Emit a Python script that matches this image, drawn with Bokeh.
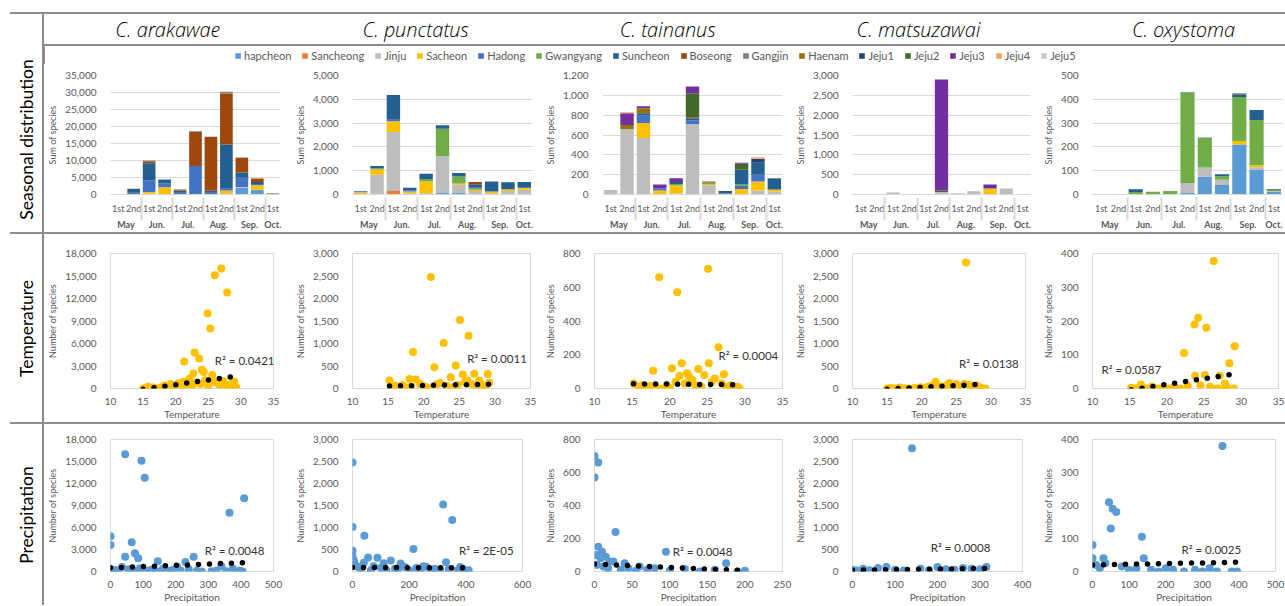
import numpy as np
from bokeh.plotting import figure
from bokeh.models import (ColumnDataSource, FactorRange, Range1d, FixedTicker,
                          NumeralTickFormatter, Legend, LegendItem, Div, Label)
from bokeh.layouts import row, column
from bokeh.embed import file_html
from bokeh.resources import INLINE
from bokeh.core.properties import value

# ---------------- data ----------------
species = ["C. arakawae", "C. punctatus", "C. tainanus", "C. matsuzawai", "C. oxystoma"]
row_titles = ["Seasonal distribution", "Temperature", "Precipitation"]
sites = ["hapcheon", "Sancheong", "Jinju", "Sacheon", "Hadong", "Gwangyang", "Suncheon",
         "Boseong", "Gangjin", "Haenam", "Jeju1", "Jeju2", "Jeju3", "Jeju4", "Jeju5"]
months = ["May", "May", "Jun.", "Jun.", "Jul.", "Jul.", "Aug.", "Aug.", "Sep.", "Sep.", "Oct."]
halves = ["1st", "2nd", "1st", "2nd", "1st", "2nd", "1st", "2nd", "1st", "2nd", "1st"]

# stacked bar values per site (May1 .. Oct1)
ara_bars = {
    "hapcheon": [0, 100, 200, 100, 0, 100, 0, 300, 2000, 1400, 0],
    "Jinju":    [0, 0, 0, 0, 0, 0, 0, 0, 200, 0, 0],
    "Sacheon":  [0, 0, 500, 2000, 0, 0, 0, 900, 0, 1300, 150],
    "Hadong":   [50, 400, 3500, 1200, 500, 8300, 500, 500, 2700, 400, 50],
    "Suncheon": [0, 1100, 5000, 1100, 700, 0, 600, 13000, 1600, 600, 0],
    "Boseong":  [0, 100, 600, 0, 300, 10000, 15900, 15000, 4200, 1000, 0],
    "Gangjin":  [0, 0, 200, 0, 0, 200, 0, 500, 200, 0, 0],
    "Haenam":   [0, 0, 0, 0, 0, 0, 0, 0, 0, 0, 200],
}
pun_bars = {
    "hapcheon":  [0, 0, 0, 0, 20, 80, 80, 0, 0, 0, 0],
    "Sancheong": [0, 30, 150, 0, 0, 0, 0, 0, 0, 0, 0],
    "Jinju":     [60, 800, 2480, 50, 30, 1530, 330, 150, 50, 150, 200],
    "Sacheon":   [50, 220, 450, 80, 500, 0, 50, 60, 80, 70, 80],
    "Hadong":    [20, 0, 60, 50, 0, 0, 0, 20, 0, 0, 0],
    "Gwangyang": [0, 50, 0, 0, 100, 1150, 300, 50, 0, 0, 0],
    "Suncheon":  [20, 100, 1040, 100, 220, 150, 140, 150, 420, 290, 240],
    "Boseong":   [0, 0, 0, 0, 0, 0, 0, 100, 0, 0, 0],
}
tai_bars = {
    "Jinju":     [45, 660, 570, 0, 10, 710, 90, 0, 0, 40, 30],
    "Sacheon":   [0, 0, 150, 40, 80, 0, 10, 0, 55, 90, 20],
    "Hadong":    [0, 0, 80, 20, 0, 40, 0, 10, 30, 70, 0],
    "Gwangyang": [0, 0, 0, 0, 15, 0, 20, 0, 15, 0, 0],
    "Suncheon":  [0, 0, 20, 0, 20, 20, 0, 25, 150, 120, 110],
    "Boseong":   [0, 0, 0, 0, 0, 10, 10, 0, 0, 0, 0],
    "Haenam":    [0, 40, 50, 0, 0, 0, 0, 0, 0, 0, 0],
    "Jeju1":     [0, 0, 0, 0, 0, 0, 0, 0, 0, 40, 5],
    "Jeju2":     [0, 0, 0, 0, 0, 240, 0, 0, 60, 0, 0],
    "Jeju3":     [0, 120, 20, 40, 40, 70, 0, 0, 10, 0, 0],
    "Jeju4":     [0, 10, 0, 0, 0, 0, 0, 0, 0, 15, 0],
}
mat_bars = {
    "Jinju":   [0, 0, 50, 0, 0, 60, 30, 80, 0, 150, 0],
    "Sacheon": [0, 0, 0, 0, 0, 0, 0, 0, 150, 0, 0],
    "Jeju2":   [0, 0, 0, 0, 0, 40, 0, 0, 0, 0, 0],
    "Jeju3":   [0, 0, 0, 0, 0, 2800, 0, 0, 100, 0, 0],
}
oxy_bars = {
    "hapcheon":  [0, 0, 0, 0, 0, 8, 75, 40, 210, 103, 10],
    "Jinju":     [0, 2, 0, 0, 0, 40, 38, 22, 0, 12, 5],
    "Sacheon":   [0, 0, 0, 0, 0, 0, 0, 0, 15, 8, 0],
    "Gwangyang": [0, 0, 10, 12, 15, 380, 125, 15, 185, 190, 5],
    "Suncheon":  [0, 0, 12, 0, 0, 2, 2, 8, 8, 42, 3],
    "Gangjin":   [0, 0, 0, 0, 0, 0, 0, 0, 7, 0, 0],
}
bar_yticks = [
    [0, 5000, 10000, 15000, 20000, 25000, 30000, 35000],
    [0, 1000, 2000, 3000, 4000, 5000],
    [0, 200, 400, 600, 800, 1000, 1200],
    [0, 500, 1000, 1500, 2000, 2500, 3000],
    [0, 100, 200, 300, 400, 500],
]

# scatter: temperature
ara_temp_x = [27.0, 26.0, 27.9, 24.9, 25.3, 22.9, 23.6, 21.3, 24.0, 24.3, 22.7, 25.6, 15.0, 15.4, 15.8, 16.2,
              16.6, 17.0, 17.5, 17.9, 18.3, 18.8, 19.2, 19.6, 20.0, 20.4, 20.8, 21.2, 21.7, 22.1, 22.5, 23.2,
              23.8, 24.5, 25.0, 25.9, 26.4, 26.8, 27.3, 27.7, 28.2, 28.6, 29.0, 29.3]
ara_temp_y = [16000, 15100, 12800, 10000, 8000, 4800, 4000, 3600, 2500, 2200, 2000, 1800, 0, 100, 250, 50,
              150, 30, 80, 200, 400, 100, 600, 300, 150, 700, 250, 900, 500, 1300, 400, 800,
              600, 1100, 300, 900, 700, 400, 1000, 500, 200, 600, 900, 100]
pun_temp_x = [21.0, 25.1, 26.3, 22.8, 18.5, 24.5, 21.5, 27.1, 29.0, 25.5, 23.8, 15.2, 18.0, 18.9, 26.1, 27.8,
              15.5, 16.0, 16.5, 17.0, 17.5, 18.2, 19.5, 20.0, 20.5, 21.8, 22.3, 23.2, 24.0, 24.8, 25.8, 26.7,
              27.4, 28.2, 28.7, 29.2]
pun_temp_y = [2480, 1520, 1170, 1010, 810, 510, 470, 330, 320, 310, 250, 180, 210, 200, 180, 170,
              30, 60, 10, 80, 20, 40, 100, 50, 20, 90, 120, 60, 30, 80, 140, 100,
              50, 80, 40, 130]
tai_temp_x = [25.1, 18.6, 21.0, 26.5, 21.6, 25.2, 20.3, 23.8, 17.8, 27.2, 24.6, 21.3, 22.3, 22.6, 15.2, 15.8,
              16.3, 16.9, 17.4, 18.1, 19.0, 19.6, 20.0, 20.8, 22.0, 23.0, 23.4, 24.2, 25.6, 26.0, 26.9, 27.6,
              28.1, 28.6, 29.0, 29.3]
tai_temp_y = [710, 660, 570, 245, 150, 150, 120, 115, 105, 85, 80, 75, 90, 70, 30, 10,
              20, 5, 15, 10, 0, 20, 5, 40, 30, 50, 20, 10, 40, 60, 30, 10,
              20, 5, 10, 0]
mat_temp_x = [26.4, 22.0, 24.0, 25.0, 26.2, 21.5, 15.0, 15.5, 16.0, 16.8, 17.5, 18.2, 19.0, 19.8, 20.5, 21.0,
              22.5, 23.0, 23.5, 24.5, 25.5, 27.0, 27.5, 28.0, 28.5, 29.2]
mat_temp_y = [2800, 150, 120, 100, 100, 60, 0, 10, 0, 20, 5, 0, 10, 30, 20, 40,
              50, 30, 60, 40, 50, 80, 30, 60, 20, 0]
oxy_temp_x = [26.3, 24.2, 23.7, 25.3, 29.1, 22.3, 28.4, 25.1, 23.8, 27.1, 16.5, 27.8, 15.2, 15.8, 17.2, 18.0,
              18.8, 19.5, 20.3, 21.0, 21.8, 22.8, 24.5, 25.8, 26.8, 27.8, 28.0, 29.0]
oxy_temp_y = [378, 210, 190, 180, 125, 105, 75, 40, 38, 38, 12, 15, 2, 0, 0, 5,
              0, 2, 0, 5, 0, 8, 10, 5, 0, 0, 5, 0]

# scatter: precipitation
ara_prec_x = [45, 95, 105, 410, 365, 0, 0, 65, 75, 85, 45, 255, 230, 145, 375, 0, 5, 15, 25, 35,
              55, 70, 90, 110, 125, 140, 160, 175, 190, 205, 215, 240, 265, 280, 310, 325, 340, 355, 395, 405]
ara_prec_y = [16000, 15100, 12800, 10000, 8000, 4800, 3600, 4000, 2500, 1800, 2000, 2000, 1300, 1400, 400,
              300, 100, 200, 50, 600, 300, 150, 400, 100, 250, 50, 350, 100, 200, 600, 150, 300, 100, 0,
              50, 100, 700, 50, 100, 0]
pun_prec_x = [0, 320, 352, 0, 42, 215, 0, 0, 330, 55, 88, 135, 40, 110, 170, 260, 380, 5, 10, 20,
              30, 65, 75, 100, 120, 150, 160, 185, 200, 225, 240, 250, 275, 290, 310, 340, 370, 390, 400, 410]
pun_prec_y = [2480, 1520, 1170, 1010, 810, 510, 470, 350, 210, 320, 310, 250, 200, 190, 180, 110, 100, 250,
              150, 100, 50, 30, 120, 80, 20, 60, 40, 100, 20, 80, 40, 120, 20, 60, 30, 50, 20, 60, 10, 30]
tai_prec_x = [0, 0, 5, 28, 95, 5, 10, 2, 20, 40, 15, 60, 80, 120, 160, 200, 175, 3, 8, 12,
              18, 25, 35, 45, 55, 70, 100, 140, 190]
tai_prec_y = [700, 570, 660, 240, 120, 150, 120, 100, 60, 50, 90, 30, 20, 15, 10, 5, 50, 40, 80, 30,
              20, 60, 10, 20, 5, 10, 5, 0, 0]
mat_prec_x = [140, 0, 10, 25, 40, 60, 80, 100, 120, 160, 180, 200, 220, 240, 260, 280, 300, 315]
mat_prec_y = [2800, 40, 20, 60, 30, 80, 100, 40, 20, 60, 30, 100, 50, 40, 80, 60, 50, 100]
oxy_prec_x = [355, 45, 55, 65, 50, 135, 0, 0, 140, 30, 10, 20, 35, 80, 100, 120, 160, 180, 200, 220,
              250, 280, 300, 320, 340, 380, 395]
oxy_prec_y = [380, 210, 190, 180, 130, 105, 80, 40, 40, 40, 20, 10, 25, 15, 5, 10, 5, 0, 10, 5,
              0, 5, 0, 10, 0, 0, 0]

temp_xticks = [10, 15, 20, 25, 30, 35]
temp_yticks = [
    [0, 3000, 6000, 9000, 12000, 15000, 18000],
    [0, 500, 1000, 1500, 2000, 2500, 3000],
    [0, 200, 400, 600, 800],
    [0, 500, 1000, 1500, 2000, 2500, 3000],
    [0, 100, 200, 300, 400],
]
prec_xticks = [
    [0, 100, 200, 300, 400, 500],
    [0, 200, 400, 600],
    [0, 50, 100, 150, 200, 250],
    [0, 100, 200, 300, 400],
    [0, 100, 200, 300, 400, 500],
]
prec_yticks = temp_yticks

# linear trend lines (value at min x, value at max x)
temp_trend = [[-100, 1650], [55, 95], [28, 22], [-15, 100], [-4, 43]]
prec_trend = [[500, 1200], [90, 85], [45, 5], [30, 70], [20, 28]]
temp_r2 = ["R² = 0.0421", "R² = 0.0011", "R² = 0.0004", "R² = 0.0138", "R² = 0.0587"]
prec_r2 = ["R² = 0.0048", "R² = 2E-05", "R² = 0.0048", "R² = 0.0008", "R² = 0.0025"]

# ---------------- styles / layout ----------------
FONT = "Lato"
TITLE_FONT = "'Open Sans Light', 'Open Sans'"
TXT = "#595959"
GRID = "#D9D9D9"
LINE = "#8C8C8C"
site_colors = ["#5B9BD5", "#ED7D31", "#BDBDBD", "#FFC000", "#4472C4", "#70AD47", "#255E91",
               "#9E480E", "#7F7F7F", "#997300", "#264478", "#43682B", "#7030A0", "#F4A46A", "#C9C9C9"]
W = 1285
LABEL_W = 42
CONTENT_W = 1241
cell_w = [248, 250, 250, 248, 245]
header_x = [167, 415, 667, 918, 1183]          # page x centres of the column titles
bar_borders = [(56, 12), (55, 10), (55, 10), (55, 10), (50, 3)]
temp_borders = [(58, 19), (56, 12), (51, 10), (55, 15), (48, 7)]
prec_borders = [(56, 19), (53, 20), (51, 10), (55, 18), (50, 10)]
temp_r2_pos = [(26.0, 3800), (26.1, 670), (26.5, 196), (25.4, 556), (11.2, 56)]
prec_r2_pos = [(289, 2930), (376, 467), (104, 124), (184, 555), (243, 68)]
TOP_SPACE, HEAD_H = 12, 30
ROW1_H, ROW2_H, ROW3_H = 186, 188, 181
LEG_H = 18


def hline(start=10):
    return row(Div(width=start, height=2, margin=0),
               Div(width=W - start, height=2, margin=0, styles={"background-color": LINE}))


def vline(h):
    return Div(width=2, height=h, margin=0, styles={"background-color": LINE})


def blank_fig(w, h, xr=(0, 1), yr=(0, 1)):
    p = figure(width=w, height=h, x_range=Range1d(*xr), y_range=Range1d(*yr),
               output_backend="svg", toolbar_location=None, min_border=0)
    p.xaxis.visible = False
    p.yaxis.visible = False
    p.grid.visible = False
    p.outline_line_color = None
    return p


def label_fig(text, h):
    p = blank_fig(LABEL_W, h)
    p.text(x=[0.62], y=[0.5], text=[text], angle=np.pi / 2, text_align="center",
           text_baseline="middle", text_font=value(FONT), text_font_size="17.5px", text_color="#000000")
    return p


def style_axes(p):
    for ax in (p.xaxis, p.yaxis):
        ax.major_tick_line_color = None
        ax.minor_tick_line_color = None
        ax.major_label_text_font = FONT
        ax.major_label_text_font_size = "10px"
        ax.major_label_text_color = TXT
        ax.axis_label_text_font = FONT
        ax.axis_label_text_font_style = "normal"
        ax.axis_label_text_color = TXT
    p.yaxis.axis_line_color = None


def bar_fig(bars, yticks, w, borders):
    factors = list(zip(months, halves))
    data = {"period": factors}
    for s in sites:
        data[s] = bars.get(s, [0] * len(factors))
    src = ColumnDataSource(data)
    p = figure(width=w, height=ROW1_H - LEG_H,
               x_range=FactorRange(factors=factors, group_padding=0, range_padding=0),
               y_range=Range1d(0, yticks[-1]), output_backend="svg", toolbar_location=None,
               min_border_left=borders[0], min_border_right=borders[1],
               min_border_top=11, min_border_bottom=38)
    p.vbar_stack(sites, x="period", width=0.82, fill_color=site_colors, line_color=None, source=src)
    style_axes(p)
    p.yaxis.ticker = FixedTicker(ticks=yticks)
    p.yaxis.formatter = NumeralTickFormatter(format="0,0")
    p.yaxis.axis_label = "Sum of species"
    p.yaxis.axis_label_text_font_size = "9px"
    p.yaxis.axis_label_standoff = 4
    p.yaxis.major_label_standoff = 8
    p.xaxis.axis_line_color = GRID
    p.xaxis.separator_line_color = GRID
    p.xaxis.major_label_text_font_size = "9px"
    p.xaxis.group_text_font = FONT
    p.xaxis.group_text_font_size = "9px"
    p.xaxis.group_text_color = TXT
    p.xaxis.major_label_standoff = 2
    p.xgrid.visible = False
    p.ygrid.grid_line_color = GRID
    p.outline_line_color = None
    return p


def scatter_fig(x, y, xticks, yticks, trend, r2, r2pos, color, xlabel, w, h, borders, top, bottom):
    p = figure(width=w, height=h, x_range=Range1d(xticks[0], xticks[-1]),
               y_range=Range1d(yticks[0], yticks[-1]), output_backend="svg", toolbar_location=None,
               min_border_left=borders[0], min_border_right=borders[1],
               min_border_top=top, min_border_bottom=bottom)
    p.scatter(x=x, y=y, size=8, fill_color=color, line_color=None)
    p.line(x=[min(x), max(x)], y=trend, line_color="black", line_width=5.5,
           line_dash="0 11", line_cap="round")
    p.add_layout(Label(x=r2pos[0], y=r2pos[1], text=r2, text_font=FONT, text_font_size="11.5px",
                       text_color="#333333", text_baseline="middle", text_align="left"))
    style_axes(p)
    p.xaxis.axis_line_color = None
    p.xaxis.ticker = FixedTicker(ticks=xticks)
    p.yaxis.ticker = FixedTicker(ticks=yticks)
    p.yaxis.formatter = NumeralTickFormatter(format="0,0")
    p.xaxis.axis_label = xlabel
    p.xaxis.axis_label_text_font_size = "10px"
    p.xaxis.axis_label_standoff = 0
    p.xaxis.major_label_standoff = 3
    p.yaxis.axis_label = "Number of species"
    p.yaxis.axis_label_text_font_size = "9px"
    p.yaxis.axis_label_standoff = 4
    p.yaxis.major_label_standoff = 8
    p.grid.visible = False
    p.outline_line_color = GRID
    return p


# header
header = blank_fig(CONTENT_W, HEAD_H, xr=(44, 1285))
header.text(x=header_x, y=[0.5] * 5, text=species, text_font=value(TITLE_FONT), text_font_style="italic",
            text_font_size="20px", text_align="center", text_baseline="middle", text_color="#000000")

# legend (swatch renderers kept outside the visible range)
leg = blank_fig(CONTENT_W, LEG_H)
items = []
for s, c in zip(sites, site_colors):
    r = leg.vbar(x=[-5], top=[1], width=1, fill_color=c, line_color=None)
    items.append(LegendItem(label=s, renderers=[r]))
legend = Legend(items=items, orientation="horizontal", location=(190, 2), padding=0, margin=0,
                spacing=10, glyph_width=7, glyph_height=7, label_standoff=3, label_height=14,
                label_text_font=FONT, label_text_font_size="11px", label_text_color=TXT,
                border_line_color=None, background_fill_alpha=0)
leg.add_layout(legend)

all_bars = [ara_bars, pun_bars, tai_bars, mat_bars, oxy_bars]
bar_figs = [bar_fig(all_bars[i], bar_yticks[i], cell_w[i], bar_borders[i]) for i in range(5)]

temp_x = [ara_temp_x, pun_temp_x, tai_temp_x, mat_temp_x, oxy_temp_x]
temp_y = [ara_temp_y, pun_temp_y, tai_temp_y, mat_temp_y, oxy_temp_y]
prec_x = [ara_prec_x, pun_prec_x, tai_prec_x, mat_prec_x, oxy_prec_x]
prec_y = [ara_prec_y, pun_prec_y, tai_prec_y, mat_prec_y, oxy_prec_y]

temp_figs = [scatter_fig(temp_x[i], temp_y[i], temp_xticks, temp_yticks[i], temp_trend[i], temp_r2[i],
                         temp_r2_pos[i], "#FFC000", "Temperature", cell_w[i], ROW2_H, temp_borders[i], 19, 34)
             for i in range(5)]
prec_figs = [scatter_fig(prec_x[i], prec_y[i], prec_xticks[i], prec_yticks[i], prec_trend[i], prec_r2[i],
                         prec_r2_pos[i], "#5B9BD5", "Precipitation", cell_w[i], ROW3_H, prec_borders[i], 15, 31)
             for i in range(5)]

layout = column(
    Div(width=W, height=TOP_SPACE, margin=0),
    hline(10),
    row(Div(width=LABEL_W, height=HEAD_H, margin=0), vline(HEAD_H), header),
    hline(42),
    row(label_fig(row_titles[0], ROW1_H), vline(ROW1_H), column(leg, row(*bar_figs))),
    hline(10),
    row(label_fig(row_titles[1], ROW2_H), vline(ROW2_H), row(*temp_figs)),
    hline(10),
    row(label_fig(row_titles[2], ROW3_H), vline(ROW3_H), row(*prec_figs)),
)

open("out.html", "w").write(file_html(layout, INLINE))
